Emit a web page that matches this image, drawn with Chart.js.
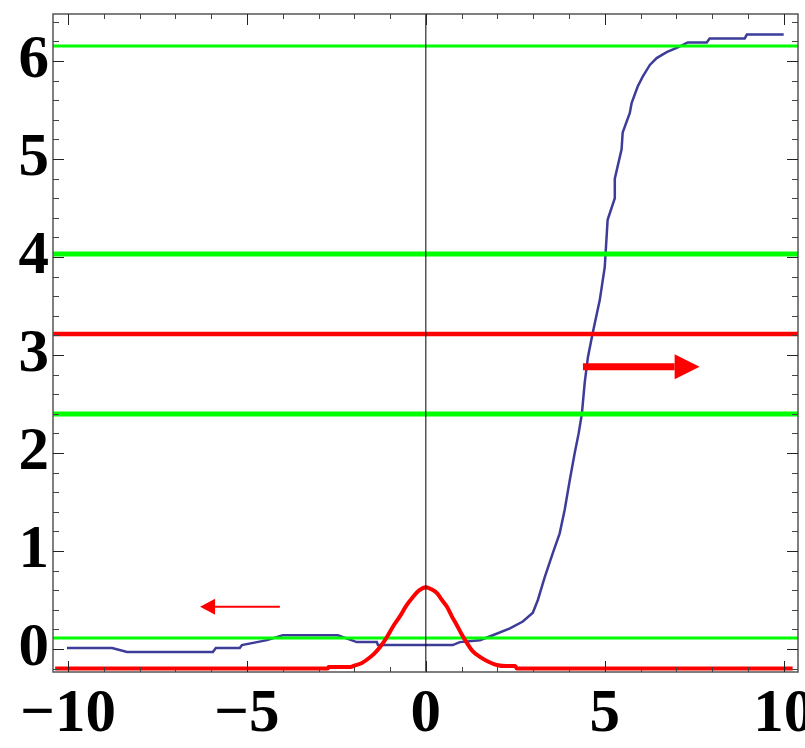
<!DOCTYPE html>
<html>
<head>
<meta charset="utf-8">
<script src="https://cdn.jsdelivr.net/npm/chart.js@4/dist/chart.umd.min.js"></script>
<style>
html, body { margin: 0; padding: 0; background: #fff; }
#wrap { width: 805px; height: 748px; }
</style>
</head>
<body>
<div id="wrap"><canvas id="chart"></canvas></div>
<script>
// axis ranges and tick labels
const xRange = [-10.42, 10.4];
const yRange = [-0.235, 6.48];
const xTicks = [-10, -5, 0, 5, 10];
const yTicks = [0, 1, 2, 3, 4, 5, 6];

// blue curve (phase)
const blueX = [-10.03, -8.77, -8.35, -5.95, -5.87, -5.2, -5.14, -4.72, -4.44, -4.0, -2.46, -1.93, -1.37, -1.34,
  0.75, 0.95, 1.51, 1.87, 2.35, 2.71, 2.99, 3.13, 3.32, 3.55, 3.74, 3.88, 4.02, 4.16, 4.27, 4.36, 4.44, 4.53,
  4.66, 4.86, 5.0, 5.08, 5.28, 5.28, 5.47, 5.5, 5.7, 5.75, 5.92, 6.06, 6.26, 6.45, 6.73, 7.04, 7.32, 7.85,
  7.93, 8.91, 8.97, 10.0];
const blueY = [0.01, 0.01, -0.03, -0.03, 0.01, 0.01, 0.04, 0.07, 0.09, 0.14, 0.14, 0.07, 0.07, 0.04,
  0.04, 0.07, 0.09, 0.14, 0.21, 0.28, 0.37, 0.5, 0.73, 0.98, 1.18, 1.42, 1.72, 2.0, 2.2, 2.4, 2.72, 2.98,
  3.22, 3.56, 3.9, 4.38, 4.6, 4.8, 5.1, 5.27, 5.47, 5.57, 5.74, 5.84, 5.96, 6.03, 6.09, 6.14, 6.19, 6.19,
  6.23, 6.23, 6.27, 6.27];

// red bump
const redX = [-10.36, -2.74, -2.72, -2.1, -2.0, -1.8, -1.65, -1.45, -1.28, -1.09, -0.9, -0.73, -0.55, -0.36,
  -0.18, 0, 0.15, 0.31, 0.45, 0.59, 0.73, 0.87, 1.0, 1.15, 1.3, 1.51, 1.75, 1.98, 2.25, 2.5, 2.54, 10.25];
const redY = [-0.2, -0.2, -0.183, -0.183, -0.17, -0.145, -0.11, -0.05, 0.02, 0.12, 0.24, 0.33, 0.44, 0.53,
  0.6, 0.63, 0.61, 0.57, 0.5, 0.43, 0.33, 0.24, 0.15, 0.06, -0.02, -0.08, -0.13, -0.163, -0.175, -0.175, -0.2, -0.2];

// horizontal levels
const greenThin = [0.112, 6.153];
const greenThick = [2.398, 4.03];
const redLevel = [3.214];

// arrows: [x from, x to], y
const arrowXs = [[4.39, 7.65], [-4.08, -6.31]];
const arrowYs = [2.88, 0.43];

function pts(xs, ys) { return xs.map((x, i) => ({ x: x, y: ys[i] })); }
function hline(y) { return [{ x: xRange[0], y: y }, { x: xRange[1], y: y }]; }

const datasets = [];
datasets.push({ data: pts(blueX, blueY), borderColor: '#3d3d99', borderWidth: 2.5, order: 5 });
greenThin.forEach(v => datasets.push({ data: hline(v), borderColor: '#00ff00', borderWidth: 3, order: 4 }));
greenThick.forEach(v => datasets.push({ data: hline(v), borderColor: '#00ff00', borderWidth: 5, order: 4 }));
redLevel.forEach(v => datasets.push({ data: hline(v), borderColor: '#ff0000', borderWidth: 4.5, order: 3 }));
datasets.push({ data: pts(redX, redY), borderColor: '#ff0000', borderWidth: 4, cubicInterpolationMode: 'monotone', order: 2 });
datasets.push({ data: [{ x: 0, y: yRange[0] }, { x: 0, y: yRange[1] }], borderColor: '#000', borderWidth: 1, order: 1 });

// frame with inward ticks, plus the arrows
const framePlugin = {
  id: 'frame',
  afterDatasetsDraw(chart) {
    const ctx = chart.ctx, a = chart.chartArea;
    const sx = chart.scales.x, sy = chart.scales.y;
    ctx.save();

    // arrows
    ctx.fillStyle = '#ff0000';
    ctx.strokeStyle = '#ff0000';
    arrowXs.forEach((xs, i) => {
      const x0 = sx.getPixelForValue(xs[0]), x1 = sx.getPixelForValue(xs[1]);
      const y = sy.getPixelForValue(arrowYs[i]);
      const big = i == 0;
      const headL = big ? 25 : 15, headH = big ? 12.5 : 8, shaft = big ? 7 : 2;
      const dir = x1 > x0 ? 1 : -1;
      const xb = x1 - dir * headL;
      ctx.lineWidth = shaft;
      ctx.beginPath(); ctx.moveTo(x0, y); ctx.lineTo(xb, y); ctx.stroke();
      ctx.beginPath(); ctx.moveTo(x1, y); ctx.lineTo(xb, y - headH); ctx.lineTo(xb, y + headH); ctx.closePath(); ctx.fill();
    });

    // frame
    ctx.strokeStyle = '#555';
    ctx.lineWidth = 1.5;
    ctx.strokeRect(a.left, a.top, a.right - a.left, a.bottom - a.top);

    // x ticks (every 1, major every 5)
    ctx.lineWidth = 1;
    for (let v = -10; v <= 10; v++) {
      const px = Math.round(sx.getPixelForValue(v)) + 0.5;
      const len = v % 5 == 0 ? 11 : 5;
      ctx.strokeStyle = v % 5 == 0 ? '#222' : '#444';
      ctx.beginPath();
      ctx.moveTo(px, a.bottom); ctx.lineTo(px, a.bottom - len);
      ctx.moveTo(px, a.top); ctx.lineTo(px, a.top + len);
      ctx.stroke();
    }
    // y ticks (every 0.2, major every 1)
    for (let k = -1; k <= 32; k++) {
      const v = k * 0.2;
      if (v < yRange[0] || v > yRange[1]) continue;
      const py = Math.round(sy.getPixelForValue(v)) + 0.5;
      const major = k % 5 == 0;
      const len = major ? 11 : 6;
      ctx.strokeStyle = major ? '#222' : '#444';
      ctx.beginPath();
      ctx.moveTo(a.left, py); ctx.lineTo(a.left + len, py);
      ctx.moveTo(a.right, py); ctx.lineTo(a.right - len, py);
      ctx.stroke();
    }
    ctx.restore();
  }
};

const labelFont = { family: "'Liberation Serif', 'Times New Roman', serif", weight: 'bold', size: 61 };
function minus(v) { return v < 0 ? '\u2212' + Math.abs(v) : '' + v; }

new Chart(document.getElementById('chart'), {
  type: 'line',
  data: { datasets: datasets },
  options: {
    responsive: true,
    maintainAspectRatio: false,
    animation: false,
    layout: { padding: { top: 14, right: 7, left: 0, bottom: 0 } },
    elements: { point: { radius: 0 }, line: { tension: 0, fill: false } },
    plugins: { legend: { display: false }, tooltip: { enabled: false } },
    scales: {
      x: {
        type: 'linear', min: xRange[0], max: xRange[1],
        grid: { display: false, drawTicks: false }, border: { display: false },
        afterBuildTicks: s => { s.ticks = xTicks.map(v => ({ value: v })); },
        afterFit: s => { s.height = 76; s.paddingLeft = 0; s.paddingRight = 0; },
        ticks: { font: labelFont, color: '#000', padding: 7, maxRotation: 0, autoSkip: false, callback: minus }
      },
      y: {
        type: 'linear', min: yRange[0], max: yRange[1],
        grid: { display: false, drawTicks: false }, border: { display: false },
        afterBuildTicks: s => { s.ticks = yTicks.map(v => ({ value: v })); },
        afterFit: s => { s.width = 53; s.paddingTop = 0; s.paddingBottom = 0; },
        ticks: { font: labelFont, color: '#000', padding: 4, autoSkip: false, callback: minus }
      }
    }
  },
  plugins: [framePlugin]
});
</script>
</body>
</html>
